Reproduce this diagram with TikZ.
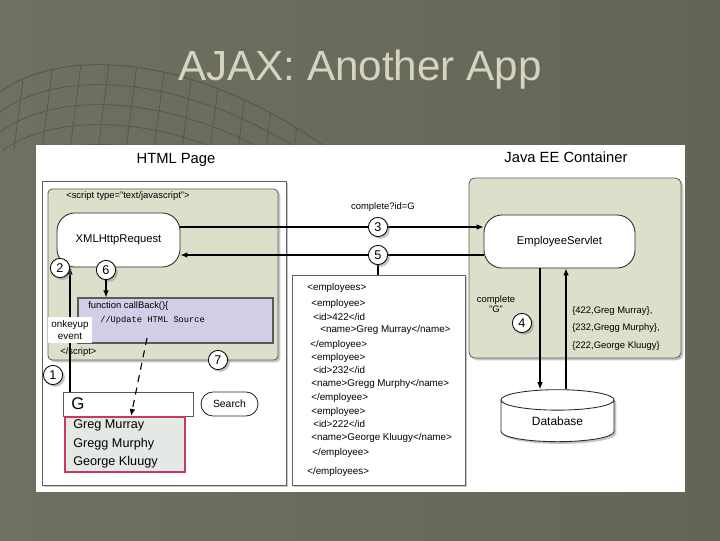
\documentclass[tikz,border=0pt]{standalone}
\usepackage{fontspec}
\setmainfont{Liberation Sans}
\setmonofont{Liberation Mono}
\usetikzlibrary{positioning,arrows.meta,shapes.geometric,shadows}
\definecolor{slide}{HTML}{6E7062}
\definecolor{slidedark}{HTML}{636558}
\definecolor{titlebeige}{HTML}{D6D4BF}
\definecolor{olive}{HTML}{DCDFC9}
\definecolor{lavender}{HTML}{D4CDE8}
\definecolor{rose}{HTML}{C9385E}
\definecolor{listgray}{HTML}{E5E9E6}
\definecolor{gridline}{HTML}{54564A}

\begin{document}
\begin{tikzpicture}[
    x=0.025cm, y=-0.025cm,
    shade/.style={drop shadow={shadow xshift=1.6pt, shadow yshift=-1.6pt, opacity=0.45}},
    framebox/.style={draw=gray!75!black, line width=0.6pt, inner sep=0pt},
    pagebox/.style={framebox, fill=white, shade},
    olivebox/.style={framebox, fill=olive, rounded corners=3pt, shade},
    pill/.style={draw=black!85, fill=white, line width=0.6pt, rounded corners=0.45cm, inner sep=0pt, font=\fontsize{8}{9}\selectfont},
    codebox/.style={draw=gray!70!black, fill=lavender, line width=0.8pt, inner sep=0pt},
    fieldbox/.style={draw=gray!70!black, fill=white, line width=0.6pt, inner sep=0pt},
    listbox/.style={draw=rose, fill=listgray, line width=0.9pt, inner sep=0pt},
    dbnode/.style={cylinder, shape border rotate=90, shape aspect=0.4, draw=black!85, fill=white, line width=0.6pt, inner sep=0pt, font=\fontsize{8.5}{9}\selectfont, shade},
    numcirc/.style={circle, draw=black, fill=white, line width=0.6pt, inner sep=0pt, minimum size=0.48cm, font=\fontsize{9}{10}\selectfont, shade},
    flow/.style={draw=black, line width=0.8pt, -{Latex[length=5pt,width=4pt]}},
    headtext/.style={inner sep=0pt, font=\fontsize{10.5}{12}\selectfont},
    smalltext/.style={inner sep=0pt, font=\fontsize{6.7}{7.4}\selectfont},
    codetext/.style={inner sep=0pt, anchor=west, font=\fontsize{6.7}{7.4}\selectfont},
    xmlline/.style={inner sep=0pt, anchor=west, font=\fontsize{7}{8}\selectfont},
    nametext/.style={inner sep=0pt, anchor=west, font=\fontsize{9}{10}\selectfont},
    gridstroke/.style={draw=gridline, line width=0.5pt}
]
    % Sfondo della diapositiva
    \shade[left color=slide, right color=slidedark] (0,0) rectangle (720,540);
    \useasboundingbox (0,0) rectangle (720,540);

    % Reticolo decorativo
    \begin{scope}
        \clip (0,92) .. controls (60,48) and (190,50) .. (330,150) -- (0,150) -- cycle;
        \foreach \k in {0,...,4}
            \draw[gridstroke] (0,92+\k*20) .. controls (60,48+\k*20) and (190,50+\k*20) .. (330,150+\k*20);
        \foreach \i in {1,...,11}
            \draw[gridstroke] (\i*28,40) -- (\i*28-14,150);
    \end{scope}
    \draw[gridstroke] (0,92) .. controls (60,48) and (190,50) .. (330,150);

    % Titolo
    \node[text=titlebeige, font=\fontsize{30}{34}\selectfont] (title) at (360,70) {AJAX: Another App};

    % Pannello bianco
    \fill[white] (36,145) rectangle (685,492);
    \node[headtext] (htmlhead) at (176,160) {HTML Page};
    \node[headtext] (javahead) at (566,157) {Java EE Container};

    % Pagina HTML
    \node[pagebox, minimum width=6.1cm, minimum height=7.6cm] (page) at (164,333) {};
    \node[olivebox, minimum width=5.75cm, minimum height=4.275cm] (script) at (163,274.5) {};
    \node[smalltext, anchor=west] (scriptopen) at (66,196) {<script type="text/javascript">};
    \node[pill, minimum width=3.075cm, minimum height=1.35cm] (xhr) at (118.5,240) {XMLHttpRequest};
    \node[codebox, minimum width=4.875cm, minimum height=1.125cm] (callback) at (175.5,320.5) {};
    \node[codetext] (cbline1) at (88,306) {function callBack()\{};
    \node[codetext, font=\ttfamily\fontsize{6.2}{7}\selectfont] (cbline2) at (100,320) {//Update HTML Source};
    \node[smalltext, anchor=west] (scriptclose) at (60,352) {</script>};

    \node[fieldbox, minimum width=3.25cm, minimum height=0.6cm] (field) at (128,404) {};
    \node[inner sep=0pt, anchor=west, font=\fontsize{12}{13}\selectfont] (typed) at (71,404) {G};
    \node[pill, minimum width=1.425cm, minimum height=0.6cm, rounded corners=0.3cm, font=\fontsize{7.4}{8}\selectfont] (search) at (229.5,404) {Search};
    \node[listbox, minimum width=3cm, minimum height=1.375cm] (list) at (125,444.5) {};
    \node[nametext] (name1) at (73,425) {Greg Murray};
    \node[nametext] (name2) at (73,444) {Gregg Murphy};
    \node[nametext] (name3) at (73,462) {George Kluugy};

    % Risposta XML
    \node[pagebox, minimum width=4.325cm, minimum height=5.25cm] (xml) at (378.5,380) {};
    \node[xmlline] (x1)  at (307,288) {<employees>};
    \node[xmlline] (x2)  at (311,304) {<employee>};
    \node[xmlline] (x3)  at (313,317) {<id>422</id};
    \node[xmlline] (x4)  at (320,330) {<name>Greg Murray</name>};
    \node[xmlline] (x5)  at (310,345) {</employee>};
    \node[xmlline] (x6)  at (311,358) {<employee>};
    \node[xmlline] (x7)  at (313,370) {<id>232</id};
    \node[xmlline] (x8)  at (311,384) {<name>Gregg Murphy</name>};
    \node[xmlline] (x9)  at (311,398) {</employee>};
    \node[xmlline] (x10) at (311,412) {<employee>};
    \node[xmlline] (x11) at (313,424) {<id>222</id};
    \node[xmlline] (x12) at (311,438) {<name>George Kluugy</name>};
    \node[xmlline] (x13) at (312,453) {</employee>};
    \node[xmlline] (x14) at (307,472) {</employees>};

    % Contenitore Java EE
    \node[olivebox, minimum width=5.3cm, minimum height=4.5cm, rounded corners=4pt] (java) at (575,268) {};
    \node[pill, minimum width=3.775cm, minimum height=1.325cm] (servlet) at (559.5,241.5) {EmployeeServlet};
    \node[dbnode, minimum width=2.825cm, minimum height=1.3cm] (db) at (557.5,421) {Database};
    \node[smalltext, align=center] (query) at (496,304) {complete\\"G"};
    \node[smalltext, anchor=west] (row1) at (572,311) {\{422,Greg Murray\},};
    \node[smalltext, anchor=west] (row2) at (572,328) {\{232,Gregg Murphy\},};
    \node[smalltext, anchor=west] (row3) at (572,346) {\{222,George Kluugy\}};
    \node[smalltext] (request) at (383,207) {complete?id=G};

    % Connettori
    \coordinate (c3) at (378,227);
    \coordinate (c5) at (378,255);
    \coordinate (keyx) at (70,0);
    \coordinate (downx) at (540,0);
    \coordinate (upx) at (566,0);
    \coordinate (dashstart) at (147,338);
    \coordinate (dashend) at (131,416);
    \draw[flow] (xhr.east |- c3) -- (servlet.west |- c3);
    \draw[flow] (servlet.west |- c5) -- (xhr.east |- c5);
    \draw[line width=0.8pt] (c5) -- (c5 |- xml.north);
    \draw[flow] (field.north -| keyx) -- (xhr.south -| keyx);
    \draw[flow, dash pattern=on 5pt off 4pt] (dashstart) -- (dashend);
    \draw[flow] (servlet.south -| downx) -- (db.north -| downx);
    \draw[flow] (db.north -| upx) -- (servlet.south -| upx);

    % Passi numerati
    \node[numcirc] (n1) at (53,375) {1};
    \node[numcirc] (n2) at (60,268) {2};
    \node[numcirc] (n3) at (c3) {3};
    \node[numcirc] (n4) at (522,323) {4};
    \node[numcirc] (n5) at (c5) {5};
    \node[numcirc] (n6) at (106,270) {6};
    \node[numcirc] (n7) at (218,360) {7};
    \draw[flow] (n6) -- (n6 |- callback.north);

    \node[fill=white, inner sep=0pt, minimum width=1.1cm, minimum height=0.65cm, align=center, font=\fontsize{7}{8}\selectfont] (keyup) at (70,330) {onkeyup\\event};
\end{tikzpicture}
\end{document}
